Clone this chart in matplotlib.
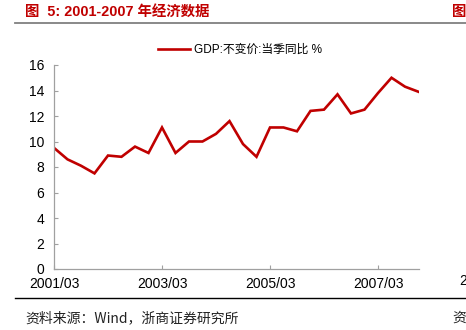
import numpy as np
import matplotlib
matplotlib.use('Agg')
import matplotlib.pyplot as plt
from matplotlib.lines import Line2D

plt.rcParams['font.family'] = ['Liberation Sans', 'Noto Sans CJK SC', 'DejaVu Sans']

# 季度 GDP 同比 (2001Q1 - 2007Q4)
quarters = ['2001/03', '2001/06', '2001/09', '2001/12',
            '2002/03', '2002/06', '2002/09', '2002/12',
            '2003/03', '2003/06', '2003/09', '2003/12',
            '2004/03', '2004/06', '2004/09', '2004/12',
            '2005/03', '2005/06', '2005/09', '2005/12',
            '2006/03', '2006/06', '2006/09', '2006/12',
            '2007/03', '2007/06', '2007/09', '2007/12']
gdp = [9.5, 8.6, 8.1, 7.5, 8.9, 8.8, 9.6, 9.1,
       11.1, 9.1, 10.0, 10.0, 10.6, 11.6, 9.8, 8.8,
       11.1, 11.1, 10.8, 12.4, 12.5, 13.7, 12.2, 12.5,
       13.8, 15.0, 14.3, 13.9]
y_ticks = [0, 2, 4, 6, 8, 10, 12, 14, 16]
series_name = 'GDP:不变价:当季同比 %'
title = '图  5: 2001-2007 年经济数据'
source = '资料来源：Wind，浙商证券研究所'

red = '#C00000'
fig = plt.figure(figsize=(4.66, 3.30), dpi=100)
ax = fig.add_axes([54 / 466, 1 - 269 / 330, (418.5 - 54) / 466, (269 - 65) / 330])

x = np.arange(len(quarters))
ax.plot(x, gdp, color=red, lw=1.9, solid_joinstyle='miter')
ax.set_xlim(0, len(quarters) - 1)
ax.set_ylim(0, 16)
ax.set_yticks(y_ticks)
ax.set_xticks(x[::8])
ax.set_xticklabels(quarters[::8])

for s in ['top', 'right']:
    ax.spines[s].set_visible(False)
for s in ['left', 'bottom']:
    ax.spines[s].set_color('#a0a0a0')
    ax.spines[s].set_linewidth(0.9)
ax.tick_params(axis='both', direction='in', length=3, width=0.8, color='#a0a0a0',
               labelsize=10, labelcolor='#000000')
ax.tick_params(axis='y', pad=7)
ax.tick_params(axis='x', pad=6)

# 图例
handle = Line2D([], [], color=red, lw=1.9)
fig.legend([handle], [series_name], loc='center', bbox_to_anchor=(240 / 466, 1 - 50 / 330),
           frameon=False, handlelength=2.7, handletextpad=0.3,
           prop={'family': ['Liberation Sans', 'Noto Sans CJK SC'], 'size': 8.5})

# 标题和分隔线
fig.text(25 / 466, 1 - 12 / 330, title, color=red, fontsize=10.4, fontweight='bold',
         va='center', ha='left', family=['Liberation Sans', 'Noto Sans CJK SC'])
fig.text(452 / 466, 1 - 12 / 330, '图', color=red, fontsize=10.4, fontweight='bold',
         va='center', ha='left', family=['Noto Sans CJK SC'])
fig.add_artist(Line2D([15 / 466, 1], [1 - 23 / 330, 1 - 23 / 330], color='#808080', lw=1.3))
fig.add_artist(Line2D([15 / 466, 1], [1 - 298 / 330, 1 - 298 / 330], color='#000000', lw=1.0))

fig.text(25 / 466, 1 - 318 / 330, source, fontsize=10, va='center', ha='left',
         family=['Noto Sans CJK SC'], color='#222222')
fig.text(452 / 466, 1 - 318 / 330, '资', fontsize=10, va='center', ha='left',
         family=['Noto Sans CJK SC'], color='#222222')
fig.text(459 / 466, 1 - 281 / 330, '2', fontsize=10, va='center', ha='left')

fig.savefig('out.png', dpi=100)
